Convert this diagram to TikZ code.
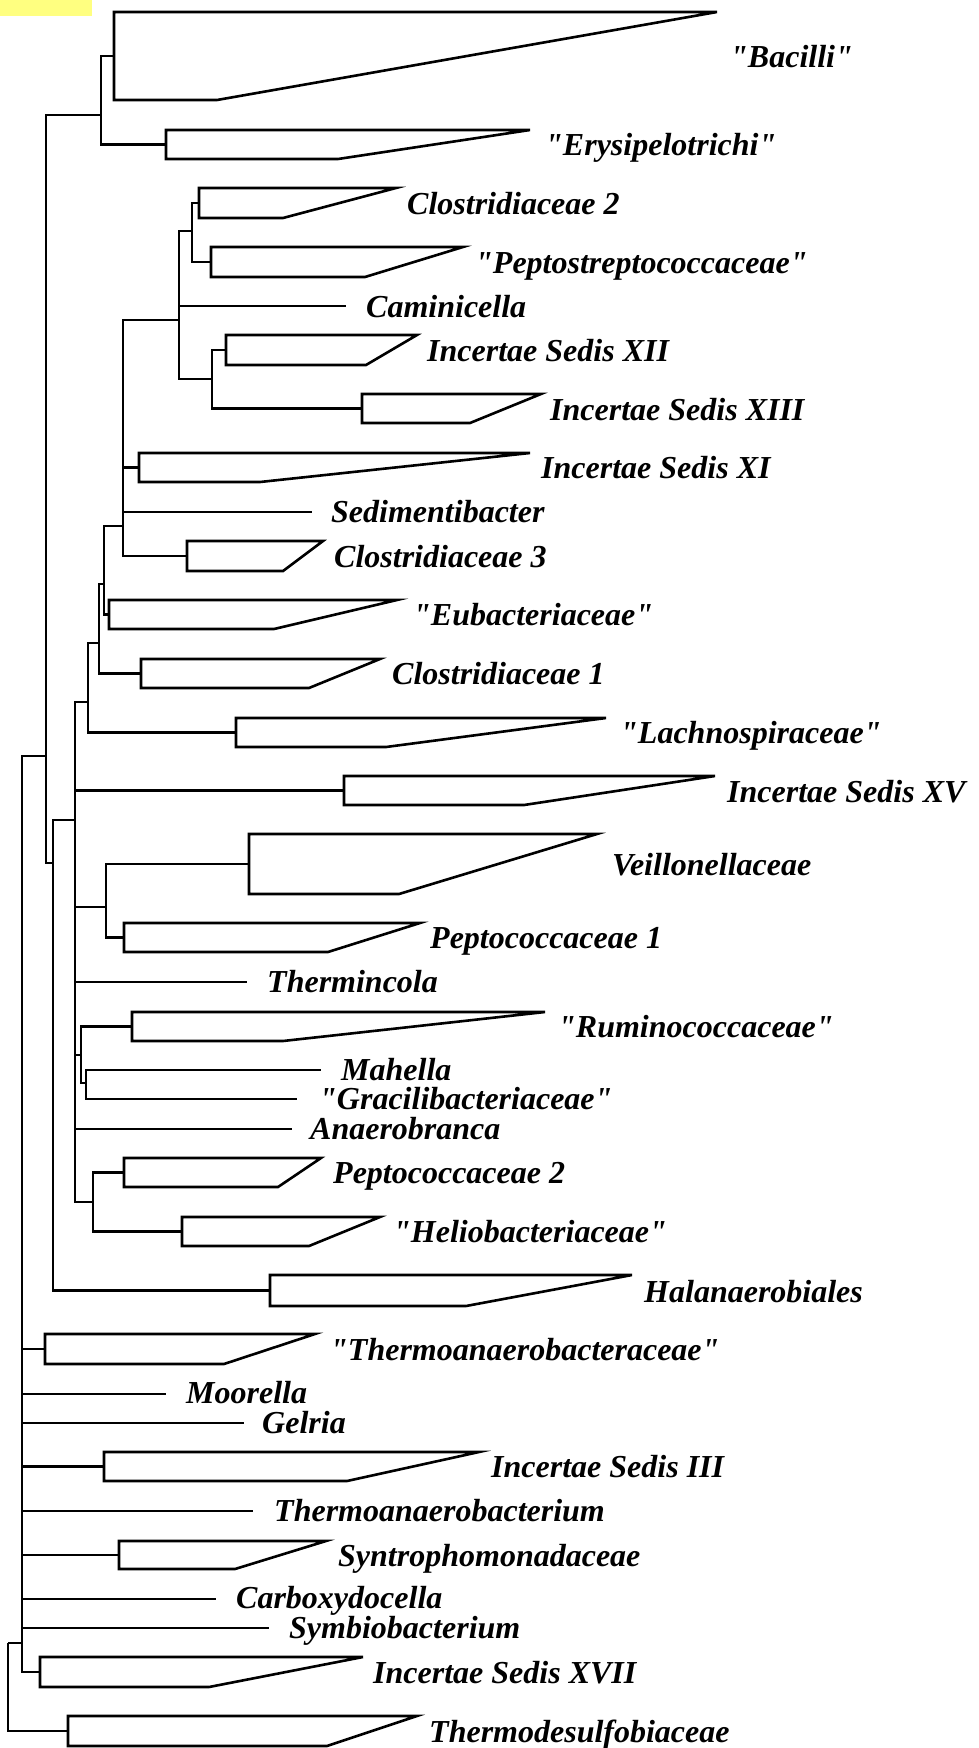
\documentclass[tikz,border=0pt]{standalone}
\usepackage{fontspec}
\newfontfamily\labfont{Liberation Serif}[Ligatures=TeXOff]
\definecolor{hl}{RGB}{255,255,128}
\tikzset{
  br/.style={line width=2.6pt, line join=miter},
  lab/.style={anchor=base west, inner sep=0pt, font=\labfont\bfseries\itshape\fontsize{32}{36}\selectfont},
}
% name, left x, top y, bottom y, flat end x, tip x, label x, label baseline y, text
\newcommand\cladebox[9]{%
  \coordinate (#1) at (#2,{(#3+#4)/2});
  \draw[br] (#2,#3) -- (#6,#3) -- (#5,#4) -- (#2,#4) -- cycle;
  \node[lab] (#1-lab) at (#7,#8) {#9};
}
% name, end x, y, label x, label baseline y, text
\newcommand\leafline[6]{%
  \coordinate (#1) at (#2,#3);
  \node[lab] (#1-lab) at (#4,#5) {#6};
}
\begin{document}
\begin{tikzpicture}[x=1pt,y=-1pt]
\useasboundingbox (0,0) rectangle (979,1748);
\fill[hl] (0,0) rectangle (92,16);

% collapsed clades
\cladebox{bac}{114}{12}{100}{217}{717}{730}{67}{"Bacilli"}
\cladebox{ery}{166}{130}{159}{338}{530}{545}{155}{"Erysipelotrichi"}
\cladebox{cl2}{199}{188}{218}{283}{396}{407}{214}{Clostridiaceae 2}
\cladebox{pst}{211}{247}{277}{365}{463}{475}{273}{"Peptostreptococcaceae"}
\cladebox{is12}{226}{335}{365}{366}{417}{427}{361}{Incertae Sedis XII}
\cladebox{is13}{362}{394}{423}{470}{541}{550}{420}{Incertae Sedis XIII}
\cladebox{is11}{139}{453}{482}{260}{530}{541}{478}{Incertae Sedis XI}
\cladebox{cl3}{187}{541}{571}{283}{323}{334}{567}{Clostridiaceae 3}
\cladebox{eub}{109}{600}{629}{274}{397}{413}{625}{"Eubacteriaceae"}
\cladebox{cl1}{141}{659}{688}{309}{380}{392}{684}{Clostridiaceae 1}
\cladebox{lach}{236}{718}{747}{386}{606}{620}{743}{"Lachnospiraceae"}
\cladebox{is15}{344}{776}{805}{524}{715}{727}{802}{Incertae Sedis XV}
\cladebox{veil}{249}{834}{894}{399}{597}{612}{875}{Veillonellaceae}
\cladebox{pc1}{124}{923}{952}{328}{420}{430}{948}{Peptococcaceae 1}
\cladebox{rum}{132}{1012}{1041}{283}{545}{558}{1037}{"Ruminococcaceae"}
\cladebox{pc2}{124}{1158}{1187}{278}{321}{333}{1183}{Peptococcaceae 2}
\cladebox{hel}{182}{1217}{1246}{309}{380}{393}{1242}{"Heliobacteriaceae"}
\cladebox{hal}{270}{1275}{1306}{466}{632}{644}{1302}{Halanaerobiales}
\cladebox{tab}{45}{1334}{1364}{224}{315}{330}{1360}{"Thermoanaerobacteraceae"}
\cladebox{is3}{104}{1452}{1481}{347}{479}{491}{1477}{Incertae Sedis III}
\cladebox{syn}{119}{1541}{1569}{235}{326}{338}{1566}{Syntrophomonadaceae}
\cladebox{is17}{40}{1657}{1687}{209}{363}{373}{1683}{Incertae Sedis XVII}
\cladebox{tds}{68}{1716}{1746}{327}{417}{429}{1742}{Thermodesulfobiaceae}

% single-genus leaves
\leafline{cam}{346}{306}{366}{317}{Caminicella}
\leafline{sed}{312}{512}{331}{522}{Sedimentibacter}
\leafline{thc}{247}{982}{267}{992}{Thermincola}
\leafline{mah}{321}{1070}{341}{1080}{Mahella}
\leafline{gra}{297}{1099}{319}{1109}{"Gracilibacteriaceae"}
\leafline{ana}{292}{1129}{310}{1139}{Anaerobranca}
\leafline{moo}{166}{1394}{186}{1403}{Moorella}
\leafline{gel}{244}{1423}{262}{1433}{Gelria}
\leafline{tbm}{253}{1511}{274}{1521}{Thermoanaerobacterium}
\leafline{car}{216}{1599}{236}{1608}{Carboxydocella}
\leafline{sym}{269}{1628}{289}{1638}{Symbiobacterium}

% internal nodes (x of vertical, y where attached to parent)
\coordinate (r)   at (8,1643);
\coordinate (n12) at (22,1643);
\coordinate (n10) at (46,756);
\coordinate (n11) at (101,115);
\coordinate (n9)  at (53,863);
\coordinate (n4)  at (75,820);
\coordinate (n3)  at (88,702);
\coordinate (n1)  at (99,643);
\coordinate (n2)  at (104,584);
\coordinate (n13) at (123,526);
\coordinate (n14) at (179,320);
\coordinate (n15) at (192,231);
\coordinate (n16) at (212,379);
\coordinate (n5)  at (106,907);
\coordinate (n6)  at (81,1055);
\coordinate (n7)  at (86,1083);
\coordinate (n8)  at (93,1202);

% branches
\foreach \p/\c in {r/n12, r/tds,
  n12/n10, n12/tab, n12/moo, n12/gel, n12/is3, n12/tbm, n12/syn, n12/car, n12/sym, n12/is17,
  n10/n11, n10/n9,
  n11/bac, n11/ery,
  n9/n4, n9/hal,
  n4/n3, n4/is15, n4/n5, n4/thc, n4/n6, n4/ana, n4/n8,
  n3/n1, n3/lach,
  n1/n2, n1/cl1,
  n2/n13, n2/eub,
  n13/n14, n13/is11, n13/sed, n13/cl3,
  n14/n15, n14/cam, n14/n16,
  n15/cl2, n15/pst,
  n16/is12, n16/is13,
  n5/veil, n5/pc1,
  n6/rum, n6/n7,
  n7/mah, n7/gra,
  n8/pc2, n8/hel}
  {\draw[br] (\p) |- (\c);}
\end{tikzpicture}
\end{document}
